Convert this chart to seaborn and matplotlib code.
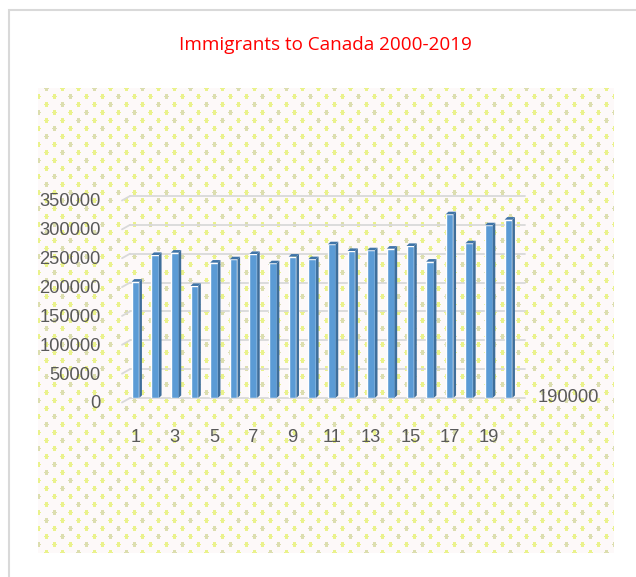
import numpy as np
import pandas as pd
import seaborn as sns
import matplotlib
matplotlib.use("Agg")
import matplotlib.pyplot as plt
from matplotlib.patches import Polygon, Rectangle
from matplotlib.transforms import ScaledTranslation

# ---- data ----
categories = [str(i) for i in range(1, 21)]
values = [201500, 247800, 251800, 194100, 234500, 240300, 249500, 233400, 244900, 240500,
          266300, 254700, 255900, 258700, 263400, 236200, 318300, 268000, 299200, 309000]
ytick_values = [0, 50000, 100000, 150000, 200000, 250000, 300000, 350000]
xtick_labels = [str(i) for i in range(1, 21, 2)]
title = "Immigrants to Canada 2000-2019"
series_label = "190000"

sns.set_theme(style="white")
plt.rcParams["font.family"] = ["Liberation Sans", "DejaVu Sans"]

W, H = 636, 577
fig = plt.figure(figsize=(W / 100, H / 100), dpi=100, facecolor="white")

def fr(x0, y0, x1, y1):
    return [x0 / W, 1 - y1 / H, (x1 - x0) / W, (y1 - y0) / H]

# ---- patterned background (decoration) ----
bg = fig.add_axes(fr(38, 88, 614, 553), zorder=0)
ph, pw = 553 - 88, 614 - 38
rr, cc = np.mgrid[0:ph, 0:pw]
img = np.ones((ph, pw, 3)) * np.array([253, 249, 249]) / 255.0
row = (rr + 4) // 8
ry = (rr + 4) % 8 - 4
cshift = (cc + 8 * (row % 2)) % 16 - 8
mask = (cshift / 2.0) ** 2 + (ry / 2.9) ** 2 <= 1.0
colidx = ((cc + 8 * (row % 2)) // 16 + row) % 3
yel = np.array([234, 242, 140]) / 255.0
gry = np.array([220, 222, 175]) / 255.0
img[mask & (colidx != 0)] = yel
img[mask & (colidx == 0)] = gry
bg.imshow(img, aspect="auto", interpolation="bilinear")
bg.axis("off")

# ---- main axes ----
ax = fig.add_axes(fr(130, 196, 525, 398), zorder=2)
ax.patch.set_alpha(0)
df = pd.DataFrame({"cat": categories, "val": values})
sns.barplot(data=df, x="cat", y="val", order=categories, color="#5B9BD5",
            saturation=1, width=0.39, ax=ax, zorder=3)

ax.set_ylim(0, 350000)
ax.set_xlim(-0.28, 19.84)

# 3D side and top faces derived from each bar
px_x = 19.63            # px per category unit
px_y = 202 / 350000     # px per value unit
dx = 2.6 / px_x
dy = 2.6 / px_y
for p in list(ax.patches):
    x0, w, h = p.get_x(), p.get_width(), p.get_height()
    side = Polygon([(x0 + w, 0), (x0 + w + dx, dy), (x0 + w + dx, h + dy), (x0 + w, h)],
                   closed=True, facecolor="#3E6E9B", edgecolor="none", zorder=3)
    top = Polygon([(x0, h), (x0 + dx, h + dy), (x0 + w + dx, h + dy), (x0 + w, h)],
                  closed=True, facecolor="#3F74A8", edgecolor="none", zorder=3)
    ax.add_patch(side)
    ax.add_patch(top)

# gridlines with slanted floor edge
sx = 8 / px_x
sy = 4.5 / px_y
for v in ytick_values:
    ax.plot([ax.get_xlim()[0], ax.get_xlim()[1]], [v, v], color="#D9D9D9", lw=1.3,
            zorder=1, clip_on=False)
    ax.plot([ax.get_xlim()[0] - sx, ax.get_xlim()[0]], [v - sy, v], color="#D9D9D9",
            lw=1.3, zorder=1, clip_on=False)

ax.set_yticks(ytick_values)
ax.set_yticklabels([str(v) for v in ytick_values])
ax.set_xticks(list(range(0, 20, 2)))
ax.set_xticklabels(xtick_labels)
ax.tick_params(axis="y", length=0, pad=21, labelsize=13.2, labelcolor="#595959")
ax.tick_params(axis="x", length=0, pad=22, labelsize=13.2, labelcolor="#595959")
for lab in ax.get_yticklabels():
    lab.set_transform(lab.get_transform() + ScaledTranslation(0, -4 / 100, fig.dpi_scale_trans))
ax.set_xlabel("")
ax.set_ylabel("")
ax.grid(False)
for s in ax.spines.values():
    s.set_visible(False)

ax.text(1.033, 0, series_label, transform=ax.transAxes, ha="left", va="center",
        fontsize=13.2, color="#595959")

fig.text(325 / W, 1 - 45 / H, title, ha="center", va="center", fontsize=13.6,
         color="#FF0000", family=["Open Sans", "DejaVu Sans"])

# outer frame
fig.add_artist(Rectangle((9 / W, -0.05), 1.1, 1 - 10 / H + 0.05, transform=fig.transFigure,
                         fill=False, edgecolor="#D9D9D9", lw=1.5, zorder=0))

fig.savefig("out.png", dpi=100, facecolor="white")
